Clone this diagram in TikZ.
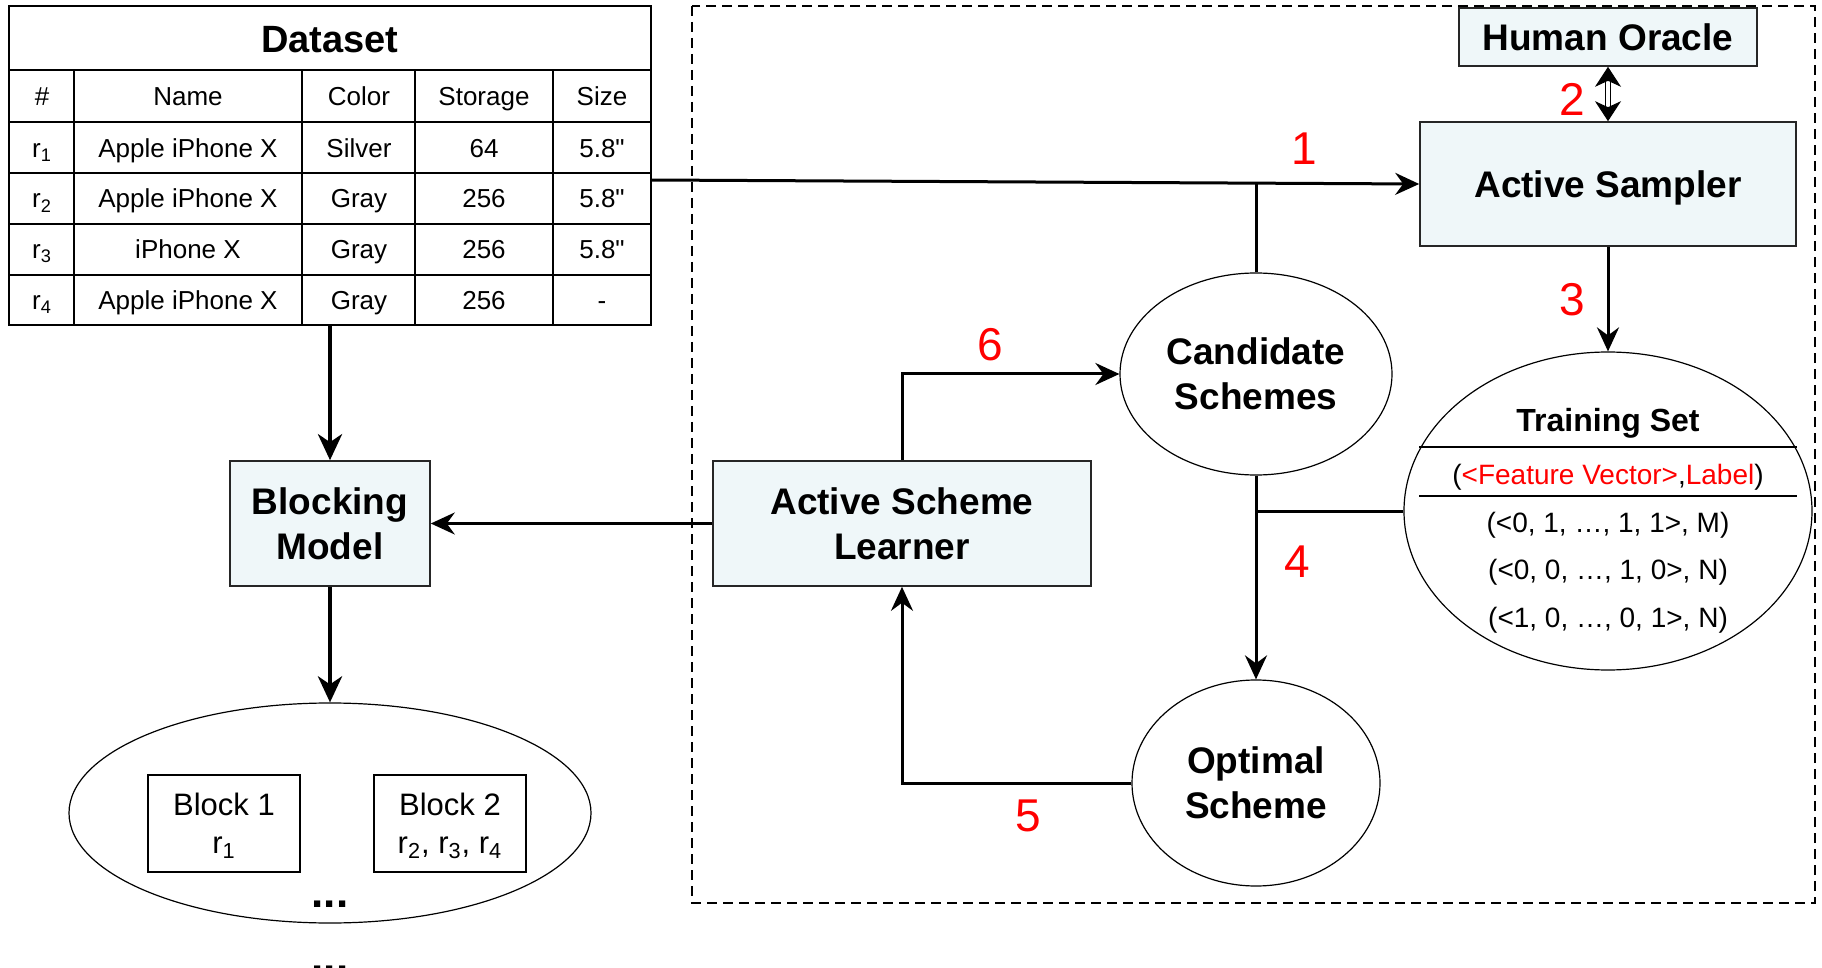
\documentclass[tikz,border=0pt]{standalone}
\usepackage{fontspec}
\setmainfont{Liberation Sans}
\newfontfamily\plainfont{Liberation Sans}
\usetikzlibrary{arrows.meta,shapes.geometric}
\definecolor{boxfill}{RGB}{239,247,249}
\tikzset{
  bluebox/.style={draw=black!85, fill=boxfill, line width=0.8pt, align=center, inner sep=0pt,
    text depth=-2.3pt, font=\bfseries\fontsize{18.5}{22.5}\selectfont},
  oval/.style={draw, ellipse, line width=0.6pt, inner sep=0pt, align=center, text depth=-3pt,
    font=\bfseries\fontsize{18.5}{22.5}\selectfont},
  conn/.style={line width=1.5pt, -{Stealth[length=12pt,width=11pt,inset=4pt]}},
  plainline/.style={line width=1.5pt},
  bigconn/.style={line width=2.3pt, -{Stealth[length=13pt,width=12pt,inset=4pt]}},
  num/.style={text=red, font=\fontsize{23}{27}\selectfont, inner sep=0pt},
  cell/.style={font=\fontsize{13}{15}\selectfont, inner sep=0pt, text height=9.3pt, text depth=0pt},
  tsrow/.style={font=\fontsize{14}{16}\selectfont, inner sep=0pt, text height=10pt, text depth=0pt},
  blockbox/.style={draw, line width=0.8pt, minimum width=76pt, minimum height=48.5pt, align=center,
    inner sep=0pt, text depth=-1.5pt, font=\fontsize{15.5}{19}\selectfont},
  tline/.style={line width=1pt},
}
\begin{document}
\begin{tikzpicture}[x=0.5pt,y=-0.5pt]
\useasboundingbox (0,0) rectangle (1822,968);

% dashed frame
\draw[line width=1pt, dash pattern=on 5pt off 3pt] (692,6) rectangle (1815,903);

% ---------- Dataset table ----------
\node[draw, line width=1pt, minimum width=321pt, minimum height=159.5pt, inner sep=0pt] (tbl) at (330,165.5) {};
\foreach \yy in {70,122,173,224.5,275.4} \draw[tline] (9,\yy) -- (651,\yy);
\foreach \xx in {74.4,302,415,553} \draw[tline] (\xx,70) -- (\xx,325);
\node[inner sep=0pt, text height=13.5pt, text depth=0pt, font=\bfseries\fontsize{19}{22}\selectfont] (dtitle) at (330,39) {Dataset};
\node[cell] (h1) at (42,96) {\#};
\node[cell] (h2) at (188,96) {Name};
\node[cell] (h3) at (359,96) {Color};
\node[cell] (h4) at (484,96) {Storage};
\node[cell] (h5) at (602,96) {Size};
\node[cell] (a1) at (42,148) {r\textsubscript{1}};
\node[cell] (a2) at (188,148) {Apple iPhone X};
\node[cell] (a3) at (359,148) {Silver};
\node[cell] (a4) at (484,148) {64};
\node[cell] (a5) at (602,148) {\plainfont 5.8"};
\node[cell] (b1) at (42,198.5) {r\textsubscript{2}};
\node[cell] (b2) at (188,198.5) {Apple iPhone X};
\node[cell] (b3) at (359,198.5) {Gray};
\node[cell] (b4) at (484,198.5) {256};
\node[cell] (b5) at (602,198.5) {\plainfont 5.8"};
\node[cell] (c1) at (42,249) {r\textsubscript{3}};
\node[cell] (c2) at (188,249) {iPhone X};
\node[cell] (c3) at (359,249) {Gray};
\node[cell] (c4) at (484,249) {256};
\node[cell] (c5) at (602,249) {\plainfont 5.8"};
\node[cell] (d1) at (42,300) {r\textsubscript{4}};
\node[cell] (d2) at (188,300) {Apple iPhone X};
\node[cell] (d3) at (359,300) {Gray};
\node[cell] (d4) at (484,300) {256};
\node[cell] (d5) at (602,300) {-};

% ---------- main nodes ----------
\node[bluebox, minimum width=149pt, minimum height=29pt] (ho) at (1608,37) {Human Oracle};
\node[bluebox, minimum width=188pt, minimum height=62pt] (as) at (1608,184) {Active Sampler};
\node[oval, minimum width=136pt, minimum height=101pt] (cs) at (1256,374) {Candidate\\Schemes};
\node[oval, minimum width=124pt, minimum height=103pt] (os) at (1256,783) {Optimal\\Scheme};
\node[oval, minimum width=204pt, minimum height=159pt] (ts) at (1608,511) {};
\node[bluebox, minimum width=189pt, minimum height=62.5pt] (asl) at (902,523.5) {Active Scheme\\Learner};
\node[bluebox, minimum width=100pt, minimum height=62.5pt] (bm) at (330,523.5) {Blocking\\Model};
\node[oval, minimum width=261pt, minimum height=110pt] (blk) at (330,813) {};
\node[blockbox] (b1box) at (224,823.5) {Block 1\\r\textsubscript{1}};
\node[blockbox] (b2box) at (450,823.5) {Block 2\\r\textsubscript{2}, r\textsubscript{3}, r\textsubscript{4}};
\node[anchor=base, inner sep=0pt, font=\bfseries\fontsize{22}{24}\selectfont] (dots1) at (330,907) {...};
\node[anchor=base, inner sep=0pt, font=\bfseries\fontsize{22}{24}\selectfont] (dots2) at (330,972) {...};

% training set contents
\node[tsrow, font=\bfseries\fontsize{16}{18}\selectfont, text height=11.5pt] (tst) at (1608,420) {Training Set};
\draw[line width=1.2pt] (1419,447) -- (1797,447);
\node[tsrow] (tsh) at (1608,474) {(\textcolor{red}{<Feature Vector>},\textcolor{red}{Label})};
\draw[line width=1.2pt] (1419,496) -- (1797,496);
\node[tsrow] (tr1) at (1608,522) {(<0, 1, …, 1, 1>, M)};
\node[tsrow] (tr2) at (1608,569) {(<0, 0, …, 1, 0>, N)};
\node[tsrow] (tr3) at (1608,617) {(<1, 0, …, 0, 1>, N)};

% ---------- connectors ----------
\coordinate (t1) at (651,180);
\draw[conn] (t1) -- (as.west);
\draw[plainline] (cs.north) -- (cs.north |- as.west);
\draw[line width=0.5pt, double distance=2pt, {Stealth[length=10pt,width=13pt,inset=3pt]}-{Stealth[length=10pt,width=13pt,inset=3pt]}] (ho.south) -- (as.north);
\draw[conn] (as.south) -- (ts.north);
\draw[conn] (cs.south) -- (os.north);
\coordinate (j4) at (cs.south |- ts.west);
\draw[plainline] (j4) -- (ts.west);
\draw[conn] (os.west) -| (asl.south);
\draw[conn] (asl.north) |- (cs.west);
\draw[conn] (asl.west) -- (bm.east);
\draw[bigconn] (tbl.south) -- (bm.north);
\draw[bigconn] (bm.south) -- (blk.north);

% numbers
\node[num] (n1) at (1304,149) {1};
\node[num] (n2) at (1572,99) {2};
\node[num] (n3) at (1572,300) {3};
\node[num] (n4) at (1297,562) {4};
\node[num] (n5) at (1028,816) {5};
\node[num] (n6) at (990,345) {6};
\end{tikzpicture}
\end{document}
